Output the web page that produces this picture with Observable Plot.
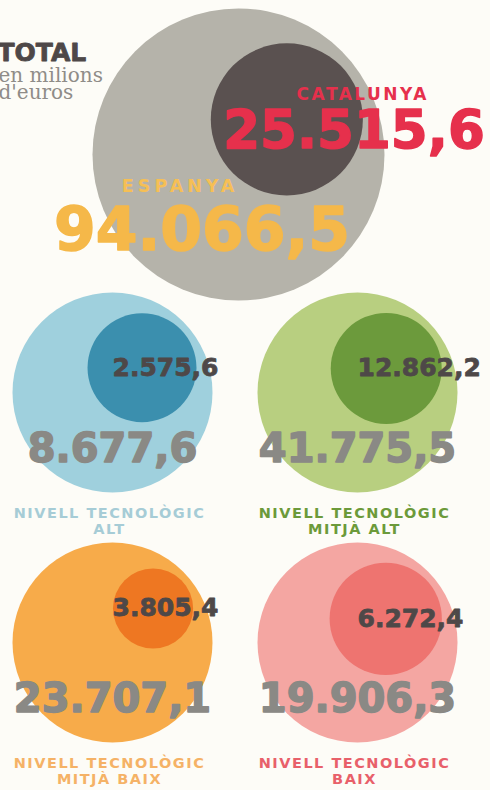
<!DOCTYPE html>
<html>
<head>
<meta charset="utf-8">
<script src="https://cdn.jsdelivr.net/npm/d3@7"></script>
<script src="https://cdn.jsdelivr.net/npm/@observablehq/plot@0.6"></script>
<style>
  html, body { margin: 0; padding: 0; background: #fdfcf7; }
  #chart { width: 490px; overflow: hidden; }
  #chart svg { display: block; overflow: visible; }
</style>
</head>
<body>
<div id="chart"></div>
<script>
// ---------- data ----------
const titleMain = "TOTAL";
const titleSub = "en milions\nd'euros";
const regions = ["ESPANYA", "CATALUNYA"];
const totalValues = [94066.5, 25515.6];
const categories = [
  "NIVELL TECNOLÒGIC\nALT",
  "NIVELL TECNOLÒGIC\nMITJÀ ALT",
  "NIVELL TECNOLÒGIC\nMITJÀ BAIX",
  "NIVELL TECNOLÒGIC\nBAIX"
];
const espanyaValues = [8677.6, 41775.5, 23707.1, 19906.3];
const catalunyaValues = [2575.6, 12862.2, 3805.4, 6272.4];

// ---------- style ----------
const bigColors = ["#9fd0dd", "#b8cf80", "#f7ab4a", "#f4a6a2"];
const innerColors = ["#3b8fae", "#6c9a3c", "#ee7722", "#ee7470"];
const labelColors = ["#a6ccd6", "#6c9a3a", "#f5b266", "#e8606a"];
const numFont = "'DejaVu Sans', sans-serif";
const fmt = d3.formatLocale({decimal: ",", thousands: ".", grouping: [3], currency: ["", ""]}).format(",.1f");

const W = 490;
const GAP = 0.93;           // inner circle edge sits at 93% of the outer radius
const ANGLE_TOP = 36 * Math.PI / 180;
const ANGLE_GRID = 40 * Math.PI / 180;

// ---------- top panel ----------
const R_TOP = 146, H_TOP = 290, CX_TOP = 238, CY_TOP = 154;
const topShare = totalValues[1] / totalValues[0];
const dTop = GAP - Math.sqrt(topShare);
const topCircles = [
  {name: regions[0], value: totalValues[0], share: 1, x: 0, y: 0, fill: "#b5b3aa"},
  {name: regions[1], value: totalValues[1], share: topShare,
   x: dTop * Math.cos(ANGLE_TOP), y: dTop * Math.sin(ANGLE_TOP), fill: "#5a5150"}
];
const cat = topCircles[1];

const topPlot = Plot.plot({
  width: W, height: H_TOP, margin: 0,
  style: {background: "transparent", overflow: "visible"},
  x: {axis: null, domain: [-CX_TOP / R_TOP, (W - CX_TOP) / R_TOP]},
  y: {axis: null, domain: [-(H_TOP - CY_TOP) / R_TOP, CY_TOP / R_TOP]},
  r: {type: "sqrt", domain: [0, 1], range: [0, R_TOP]},
  color: {type: "identity"},
  marks: [
    Plot.dot(topCircles, {x: "x", y: "y", r: "share", fill: "fill", sort: null}),
    // title
    Plot.text([titleMain], {frameAnchor: "top-left", dx: -3, dy: 43, lineAnchor: "top",
      text: d => d, fontFamily: numFont, fontWeight: "bold", fontSize: 25,
      fill: "#4e4848", stroke: "#4e4848", strokeWidth: 0.8}),
    Plot.text([titleSub], {frameAnchor: "top-left", dx: -2, dy: 69, lineAnchor: "top",
      text: d => d, fontFamily: "'DejaVu Serif', serif", fontSize: 20, lineHeight: 0.85,
      fill: "#8f8c88"}),
    // Catalunya labels
    Plot.text([cat], {x: d => d.x + 0.52, y: d => d.y + 0.17, text: "name",
      fontFamily: numFont, fontWeight: "bold", fontSize: 17, fill: "#e6304c"}),
    Plot.text([cat], {x: d => d.x + 0.46, y: d => d.y - 0.08, text: d => fmt(d.value),
      fontFamily: numFont, fontWeight: "bold", fontSize: 53,
      fill: "#e6304c", stroke: "#e6304c", strokeWidth: 1.5}),
    // Espanya labels
    Plot.text([topCircles[0]], {x: -0.40, y: -0.22, text: "name",
      fontFamily: numFont, fontWeight: "bold", fontSize: 17.5, fill: "#f6bf55"}),
    Plot.text([topCircles[0]], {x: -0.25, y: -0.52, text: d => fmt(d.value),
      fontFamily: numFont, fontWeight: "bold", fontSize: 60,
      fill: "#f5b849", stroke: "#f5b849", strokeWidth: 1.5})
  ]
});

// ---------- grid panels ----------
const R = 100, H_GRID = 500, CELL_H = 250, CX = 112, CY = 102;
const panels = categories.map((c, i) => ({
  i, label: c, col: i % 2, row: Math.floor(i / 2),
  esp: espanyaValues[i], cat: catalunyaValues[i], share: catalunyaValues[i] / espanyaValues[i]
}));
panels.forEach(p => {
  const d = GAP - Math.sqrt(p.share);
  p.ix = d * Math.cos(ANGLE_GRID);
  p.iy = d * Math.sin(ANGLE_GRID);
});
const circles = panels.flatMap(p => [
  {col: p.col, row: p.row, x: 0, y: 0, share: 1, fill: bigColors[p.i]},
  {col: p.col, row: p.row, x: p.ix, y: p.iy, share: p.share, fill: innerColors[p.i]}
]);

const gridPlot = Plot.plot({
  width: W, height: H_GRID, margin: 0,
  style: {background: "transparent", overflow: "visible"},
  fx: {axis: null, domain: [0, 1], padding: 0},
  fy: {axis: null, domain: [0, 1], padding: 0},
  x: {axis: null, domain: [-CX / R, (W / 2 - CX) / R]},
  y: {axis: null, domain: [-(CELL_H - CY) / R, CY / R]},
  r: {type: "sqrt", domain: [0, 1], range: [0, R]},
  color: {type: "identity"},
  marks: [
    Plot.dot(circles, {fx: "col", fy: "row", x: "x", y: "y", r: "share", fill: "fill", sort: null}),
    Plot.text(panels, {fx: "col", fy: "row", x: d => 0, y: "iy", text: d => fmt(d.cat),
      textAnchor: "start", fontFamily: numFont, fontWeight: "bold", fontSize: 25,
      fill: "#4e4848", stroke: "#4e4848", strokeWidth: 0.8}),
    Plot.text(panels, {fx: "col", fy: "row", x: d => 0, y: d => -0.57, text: d => fmt(d.esp),
      fontFamily: numFont, fontWeight: "bold", fontSize: 40,
      fill: "#8a8985", stroke: "#8a8985", strokeWidth: 1.5}),
    Plot.text(panels, {fx: "col", fy: "row", x: d => -0.03, y: d => -1.28, text: "label",
      fontFamily: numFont, fontWeight: "bold", fontSize: 14.5, lineHeight: 1.1,
      fill: d => labelColors[d.i]})
  ]
});

const chart = document.getElementById("chart");
chart.append(topPlot, gridPlot);

// letter-spacing for the small capital labels
const spacing = {"17": "2.5px", "17.5": "4px", "14.5": "1.5px"};
for (const g of document.querySelectorAll('#chart g[font-size]')) {
  const s = spacing[g.getAttribute("font-size")];
  if (s) g.style.letterSpacing = s;
}
</script>
</body>
</html>
